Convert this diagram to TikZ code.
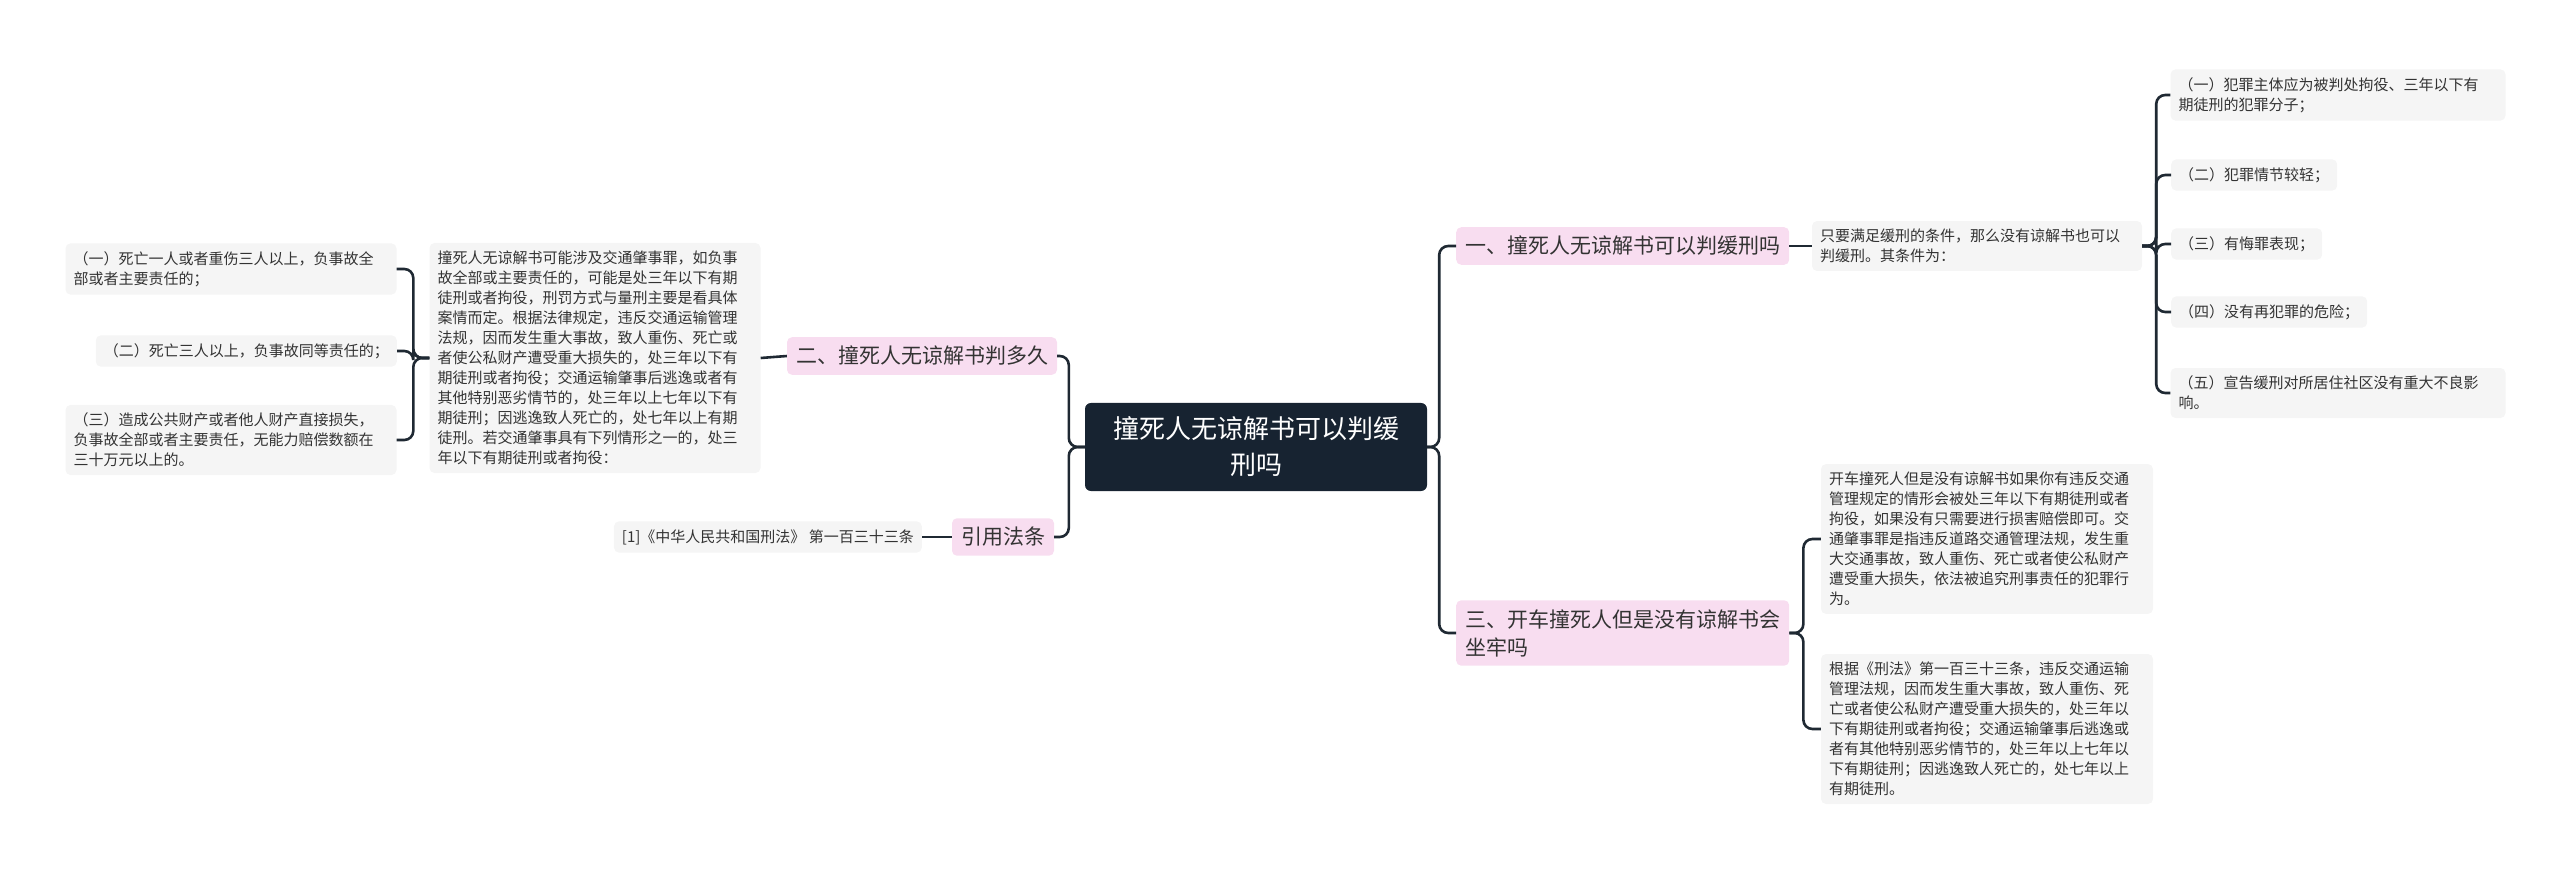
\documentclass[tikz,border=0pt]{standalone}
\usepackage{fontspec}
\newfontfamily\cjk{Noto Sans CJK SC}
\definecolor{boxg}{HTML}{F5F5F5}
\definecolor{pinkc}{HTML}{F8DDF0}
\definecolor{navy}{HTML}{172331}
\definecolor{txt}{HTML}{333333}
\definecolor{lnc}{HTML}{1F2933}
\tikzset{
 leaf/.style={fill=boxg, rounded corners=5pt, inner xsep=8pt, inner ysep=8pt, align=left, text=txt, font=\cjk\fontsize{15}{20}\selectfont},
 topic/.style={fill=pinkc, rounded corners=5pt, inner xsep=9pt, inner ysep=9pt, align=left, text=txt, font=\cjk\fontsize{21}{28}\selectfont},
 conn/.style={draw=lnc, line width=2.6pt, rounded corners=9pt}
}
\begin{document}
\begin{tikzpicture}[x=1pt,y=-1pt]
\useasboundingbox (0,0) rectangle (2560,872);
\node[fill=navy, rounded corners=6pt, text width=310pt, align=center, inner xsep=16pt, inner ysep=14pt, text=white, font=\cjk\fontsize{26}{36}\selectfont] (c) at (1256,447) {撞死人无谅解书可以判缓\\刑吗};
% left
\node[topic] (t2) at (922,356) {二、撞死人无谅解书判多久};
\node[topic] (t4) at (1003,537) {引用法条};
\node[leaf, text width=315pt] (long) at (595,358) {撞死人无谅解书可能涉及交通肇事罪，如负事\\故全部或主要责任的，可能是处三年以下有期\\徒刑或者拘役，刑罚方式与量刑主要是看具体\\案情而定。根据法律规定，违反交通运输管理\\法规，因而发生重大事故，致人重伤、死亡或\\者使公私财产遭受重大损失的，处三年以下有\\期徒刑或者拘役；交通运输肇事后逃逸或者有\\其他特别恶劣情节的，处三年以上七年以下有\\期徒刑；因逃逸致人死亡的，处七年以上有期\\徒刑。若交通肇事具有下列情形之一的，处三\\年以下有期徒刑或者拘役：};
\node[leaf, text width=315pt] (l1) at (231,269) {（一）死亡一人或者重伤三人以上，负事故全\\部或者主要责任的；};
\node[leaf, anchor=east] (l2) at (397,351) {（二）死亡三人以上，负事故同等责任的；};
\node[leaf, text width=315pt] (l3) at (231,440) {（三）造成公共财产或者他人财产直接损失，\\负事故全部或者主要责任，无能力赔偿数额在\\三十万元以上的。};
\node[leaf, anchor=east] (cite) at (922,537) {[1]《中华人民共和国刑法》 第一百三十三条};
% right
\node[topic, anchor=west] (t1) at (1456,246) {一、撞死人无谅解书可以判缓刑吗};
\node[topic, anchor=west] (t3) at (1456,633) {三、开车撞死人但是没有谅解书会\\坐牢吗};
\node[leaf, text width=314pt] (r0) at (1977,246) {只要满足缓刑的条件，那么没有谅解书也可以\\判缓刑。其条件为：};
\node[leaf, text width=319pt] (r1) at (2338,95) {（一）犯罪主体应为被判处拘役、三年以下有\\期徒刑的犯罪分子；};
\node[leaf, anchor=west] (r2) at (2171,175) {（二）犯罪情节较轻；};
\node[leaf, anchor=west] (r3) at (2171,244) {（三）有悔罪表现；};
\node[leaf, anchor=west] (r4) at (2171,312) {（四）没有再犯罪的危险；};
\node[leaf, text width=319pt] (r5) at (2338,393) {（五）宣告缓刑对所居住社区没有重大不良影\\响。};
\node[leaf, text width=316pt] (ra) at (1987,539) {开车撞死人但是没有谅解书如果你有违反交通\\管理规定的情形会被处三年以下有期徒刑或者\\拘役，如果没有只需要进行损害赔偿即可。交\\通肇事罪是指违反道路交通管理法规，发生重\\大交通事故，致人重伤、死亡或者使公私财产\\遭受重大损失，依法被追究刑事责任的犯罪行\\为。};
\node[leaf, text width=316pt] (rb) at (1987,729) {根据《刑法》第一百三十三条，违反交通运输\\管理法规，因而发生重大事故，致人重伤、死\\亡或者使公私财产遭受重大损失的，处三年以\\下有期徒刑或者拘役；交通运输肇事后逃逸或\\者有其他特别恶劣情节的，处三年以上七年以\\下有期徒刑；因逃逸致人死亡的，处七年以上\\有期徒刑。};
% connectors
\foreach \t in {t2,t4} \draw[conn] (c.west) -- ++(-16,0) |- (\t.east);
\foreach \t in {t1,t3} \draw[conn] (c.east) -- ++(12,0) |- (\t.west);
\draw[conn] (t2.west) -- (long.east);
\draw[conn] (t4.west) -- (cite.east);
\foreach \t in {l1,l2,l3} \draw[conn] (long.west) -- ++(-16,0) |- (\t.east);
\draw[conn] (t1.east) -- (r0.west);
\foreach \t in {r1,r2,r3,r4,r5} \draw[conn] (r0.east) -- ++(14,0) |- (\t.west);
\foreach \t in {ra,rb} \draw[conn] (t3.east) -- ++(14,0) |- (\t.west);
\end{tikzpicture}
\end{document}
